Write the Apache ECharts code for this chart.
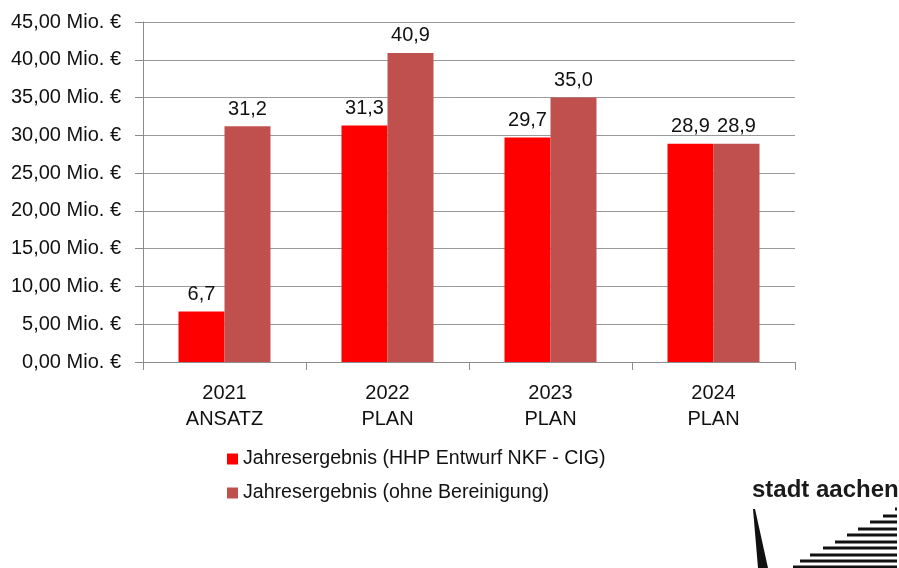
<!DOCTYPE html>
<html>
<head>
    <meta charset='utf-8'>
    <title>Jahresergebnis</title>
    <script src='https://cdn.jsdelivr.net/npm/echarts@6/dist/echarts.min.js'></script>
    <style>
        html, body { margin: 0; padding: 0; background: #fff; }
        #main { width: 899px; height: 568px; }
    </style>
</head>
<body>
    <div id='main'></div>
    <script type='text/javascript'>
        // Daten
        var categories = ['2021\nANSATZ', '2022\nPLAN', '2023\nPLAN', '2024\nPLAN'];
        var seriesNames = ['Jahresergebnis (HHP Entwurf NKF - CIG)', 'Jahresergebnis (ohne Bereinigung)'];
        var valuesCIG = [6.7, 31.3, 29.7, 28.9];
        var valuesOhne = [31.2, 40.9, 35.0, 28.9];

        var font = '"Liberation Sans", Arial, sans-serif';
        var fs = 20;
        var fmt1 = function (v) { return v.toFixed(1).replace('.', ','); };

        var myChart = echarts.init(document.getElementById('main'));

        // Logo stadt aachen (nur Dekoration)
        var stripes = [[895, 509], [883, 516], [870, 522], [858, 529], [847, 535], [835, 542], [823, 548], [810, 555], [800, 561], [793, 567]];
        var logo = [{
            type: 'text', left: 752, top: 478,
            style: { text: 'stadt aachen', font: 'bold 24px "Liberation Sans"', fill: '#1a1a1a' }
        }, {
            type: 'polygon',
            shape: { points: [[753, 509], [755, 509], [768, 568], [758, 568]] },
            style: { fill: '#111' }
        }];
        stripes.forEach(function (s) {
            logo.push({
                type: 'line',
                shape: { x1: s[0], y1: s[1], x2: 897, y2: s[1] },
                style: { stroke: '#111', lineWidth: 3 }
            });
        });

        var option = {
            backgroundColor: '#fff',
            animation: false,
            textStyle: { fontFamily: font },
            grid: { left: 143, right: 104, top: 22, bottom: 206 },
            legend: {
                orient: 'vertical',
                left: 222, top: 444,
                itemWidth: 11, itemHeight: 11, itemGap: 14,
                icon: 'rect',
                textStyle: { fontFamily: font, fontSize: 19.6, color: '#111' },
                data: seriesNames
            },
            xAxis: {
                type: 'category',
                data: categories,
                axisLine: { lineStyle: { color: '#8c8c8c' } },
                axisTick: { show: true, length: 8, interval: 0, lineStyle: { color: '#8c8c8c' } },
                axisLabel: { color: '#111', fontFamily: font, fontSize: fs, lineHeight: 26, margin: 18 }
            },
            yAxis: {
                type: 'value',
                min: 0, max: 45, interval: 5,
                axisLine: { show: true, lineStyle: { color: '#8c8c8c' } },
                axisTick: { show: true, length: 8, lineStyle: { color: '#8c8c8c' } },
                splitLine: { lineStyle: { color: '#9a9a9a' } },
                axisLabel: {
                    color: '#111', fontFamily: font, fontSize: fs, margin: 22,
                    formatter: function (v) { return v.toFixed(2).replace('.', ',') + ' Mio. €'; }
                }
            },
            series: [{
                name: seriesNames[0],
                type: 'bar',
                data: valuesCIG,
                barWidth: 46,
                barGap: '0%',
                itemStyle: { color: '#ff0000' },
                label: { show: true, position: 'top', distance: 7, color: '#111', fontFamily: font, fontSize: fs, formatter: function (p) { return fmt1(p.value); } }
            }, {
                name: seriesNames[1],
                type: 'bar',
                data: valuesOhne,
                barWidth: 46,
                itemStyle: { color: '#c0504d' },
                label: { show: true, position: 'top', distance: 7, color: '#111', fontFamily: font, fontSize: fs, formatter: function (p) { return fmt1(p.value); } }
            }],
            graphic: logo
        };

        myChart.setOption(option);
    </script>
</body>
</html>
